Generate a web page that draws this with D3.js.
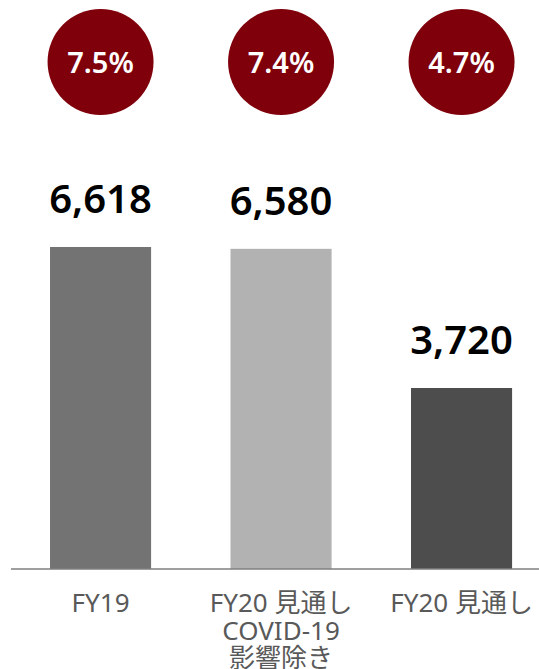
<!DOCTYPE html>
<html><head><meta charset="utf-8">
<script src="https://cdn.jsdelivr.net/npm/d3@7"></script>
<style>
html,body{margin:0;padding:0;background:#fff;}
svg{display:block;font-family:"Noto Sans","Noto Sans CJK JP",sans-serif;}
</style></head>
<body>
<svg id="chart" width="539" height="669"></svg>
<script>
const categories = ["FY19", "FY20 見通し\nCOVID-19\n影響除き", "FY20 見通し"];
const values = [6618, 6580, 3720];
const percents = ["7.5%", "7.4%", "4.7%"];
const barColors = ["#737373", "#b2b2b2", "#4d4d4d"];

const svg = d3.select("#chart");
const baseY = 569;

const x = d3.scaleBand().domain(d3.range(categories.length))
  .range([10.3, 551.8]).paddingInner(0.44).paddingOuter(0.22);
const y = d3.scaleLinear().domain([0, d3.max(values)]).range([baseY, 247]);

// bars
svg.selectAll("rect.bar").data(values).join("rect")
  .attr("class", "bar")
  .attr("x", (d, i) => x(i))
  .attr("width", x.bandwidth())
  .attr("y", d => y(d))
  .attr("height", d => baseY - y(d))
  .attr("fill", (d, i) => barColors[i]);

// axis line
svg.append("line").attr("x1", 11).attr("x2", 539).attr("y1", baseY).attr("y2", baseY)
  .attr("stroke", "#7f7f7f").attr("stroke-width", 1.5);

// value labels
svg.selectAll("text.val").data(values).join("text")
  .attr("class", "val")
  .attr("x", (d, i) => x(i) + x.bandwidth() / 2)
  .attr("y", d => y(d) - 34)
  .attr("text-anchor", "middle")
  .attr("font-size", 40)
  .attr("font-weight", 600)
  .attr("fill", "#000")
  .text(d => d3.format(",")(d));

// circles
const cg = svg.selectAll("g.pc").data(percents).join("g")
  .attr("class", "pc")
  .attr("transform", (d, i) => `translate(${x(i) + x.bandwidth() / 2},62)`);
cg.append("circle").attr("r", 53).attr("fill", "#7f000b");
cg.append("text").attr("text-anchor", "middle").attr("y", 11)
  .attr("font-size", 29).attr("font-weight", 600).attr("fill", "#fff")
  .text(d => d);

// category labels
const lab = svg.selectAll("text.cat").data(categories).join("text")
  .attr("class", "cat")
  .attr("x", (d, i) => x(i) + x.bandwidth() / 2)
  .attr("y", 612)
  .attr("text-anchor", "middle")
  .attr("font-size", 26)
  .attr("fill", "#595959");
lab.each(function(d) {
  const t = d3.select(this);
  const xx = t.attr("x");
  d.split("\n").forEach((line, j) => {
    t.append("tspan").attr("x", xx).attr("dy", j === 0 ? 0 : 27.5).text(line);
  });
});
</script>
</body></html>
